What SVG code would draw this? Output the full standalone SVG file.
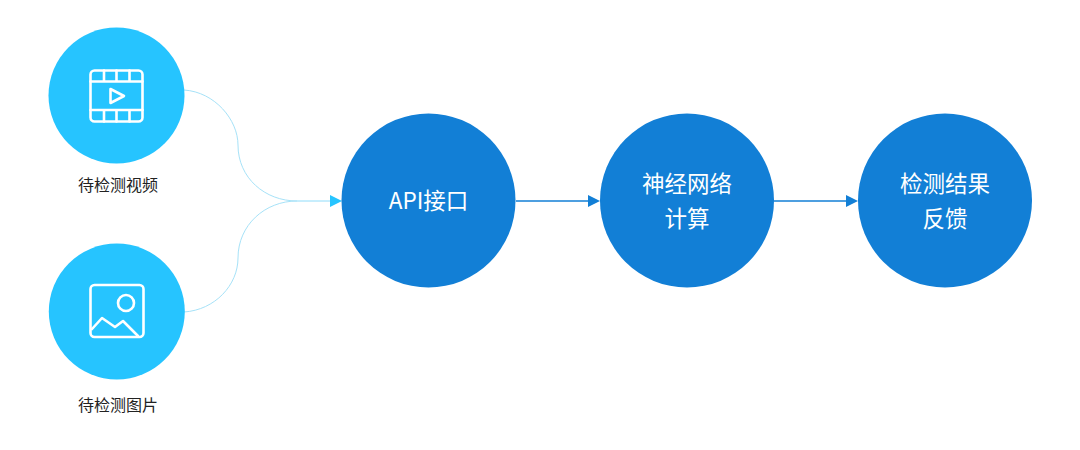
<svg xmlns="http://www.w3.org/2000/svg" width="1080" height="450" viewBox="0 0 1080 450">
<style>
.bg{fill:#fff}
.src{fill:#26c4ff}
.proc{fill:#127fd6}
.ic{fill:none;stroke:#fff;stroke-width:2.6;stroke-linejoin:round;stroke-linecap:round}
.cap{font-family:"Noto Sans CJK SC","Noto Sans",sans-serif;font-size:16px;fill:#222;text-anchor:middle}
.lab{font-family:"Noto Sans CJK SC","Noto Sans",sans-serif;font-size:22.500px;fill:#fff;text-anchor:middle}
.thin{fill:none;stroke:#a6e2f8;stroke-width:1}
.thick{fill:none;stroke:#127fd6;stroke-width:1.5}
</style>
<rect class="bg" width="1080" height="450"/>
<g id="connectors">
<path class="thin" d="M184 90C215 92 238 120 238 145C238 178 265 201 297 201"/>
<path class="thin" d="M184 312C215 310 238 285 238 258C238 225 265 201 297 201"/>
<path d="M297 201H330" fill="none" stroke="#8fdcfa" stroke-width="1"/>
<polygon points="330,195 342,201 330,207" fill="#26c4ff"/>
<path class="thick" d="M516 201H590"/>
<polygon points="588,195 600,201 588,207" fill="#127fd6"/>
<path class="thick" d="M774 201H848"/>
<polygon points="846,195 858,201 846,207" fill="#127fd6"/>
</g>
<g id="node-video">
<circle class="src" cx="116.500" cy="95.500" r="68"/>
<rect class="ic" x="90.500" y="70.500" width="52" height="51" rx="4"/>
<path class="ic" d="M90.500 81.500H142.500M90.500 110H142.500M104 70.500V81.500M116.500 70.500V81.500M129.500 70.500V81.500M104 110V121.500M116.500 110V121.500M129.500 110V121.500"/>
<path class="ic" d="M110.500 89L124 96L110.500 103Z"/>
<text class="cap" x="118" y="191">待检测视频</text>
</g>
<g id="node-image">
<circle class="src" cx="116.800" cy="311.500" r="68"/>
<rect class="ic" x="90.500" y="285" width="53" height="52" rx="4"/>
<circle class="ic" cx="126" cy="303" r="8"/>
<path class="ic" d="M92 329L102 318L115 327L123 321L138 336"/>
<text class="cap" x="118" y="411">待检测图片</text>
</g>
<g id="node-api">
<circle class="proc" cx="428.500" cy="200.500" r="87"/>
<text class="lab" x="428.500" y="209">API接口</text>
</g>
<g id="node-nn">
<circle class="proc" cx="687" cy="200.500" r="87"/>
<text class="lab" x="687" y="192">神经网络</text>
<text class="lab" x="687" y="227">计算</text>
</g>
<g id="node-result">
<circle class="proc" cx="945" cy="200.500" r="87"/>
<text class="lab" x="945" y="192">检测结果</text>
<text class="lab" x="945" y="227">反馈</text>
</g>
</svg>
